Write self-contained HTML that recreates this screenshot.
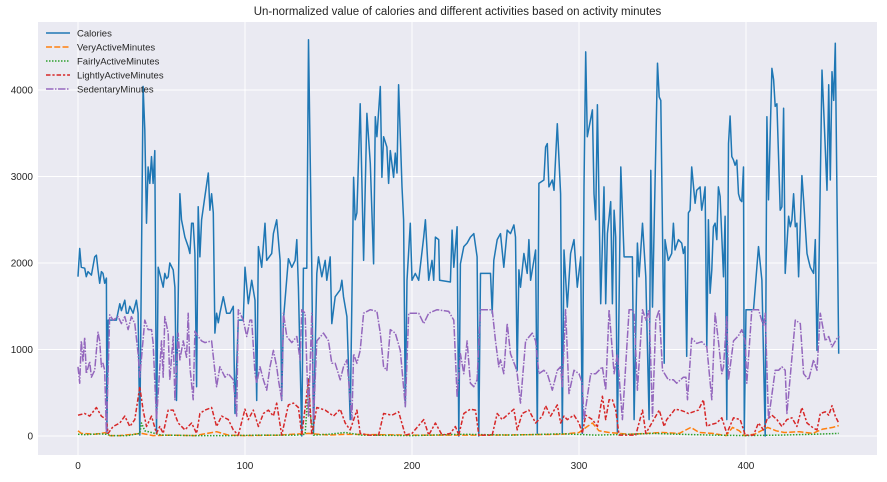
<!DOCTYPE html>
<html><head><meta charset="utf-8"><style>
html,body{margin:0;padding:0;background:#fff;}
svg{display:block;font-family:"Liberation Sans",sans-serif;}
</style></head><body>
<svg id="chart" width="887" height="482" viewBox="0 0 887 482"></svg>
<script>
const calX=[0,1,2,4,5,6,8,10,11,12,13,14,15,16,17,17.3,18,20,23,25,26,28,29,30,31,33,35,36,37,39,40,41,42,43,44,45,46,47,48,50,51,52,53,54,55,57,58,59,61,62,64,66,67,68,69,70,71,72,73,74,76,78,79,80,81,82,83,84,85,87,89,91,93,94,96,99,100,102,104,106,107,108,110,112,113,116,117,119,121,122,123,126,128,130,131,132,134,135,137,138,140,141,143,144,146,148,149,151,152,154,157,158,159,161,163,165,166,167,169,171,173,175,177,178,179,181,182,183,185,186,187,189,190,191,192,194,195,196,197,199,200,202,204,207,208,210,212,213,214,216,216.5,223,224,225,227,228,229,231,233,235,237,239,240,241,247,248,249,251,253,255,257,259,261,262,263,264,265,267,269,270,271,274,275,276,279,280,281,282,284,285,287,289,290,291,293,295,297,299,301,302,303,304,305,308,309,310,311,313,315,316,317,319,320,321,322,323,325,327,332,333,335,336,338,340,342,343,344,347,348,349,351,351.5,353.5,355.5,356.5,357.5,359.5,361.5,362.5,363.5,364.5,365.5,366.5,367.5,369.5,370.5,372.5,373.5,374.5,375.5,376.5,377.5,378.5,379.5,380.5,381.5,382.5,383.5,384.5,386.5,387.5,388.5,389.5,390.5,391.5,392.5,393.5,394.5,395.5,396.5,397.5,398.5,399,400,404.5,407.5,409.5,411.5,412.5,413.5,415.5,416.5,417.5,418.5,420.5,421.5,422.5,423.5,425.5,426.5,427.5,428.5,429.5,430.5,431.5,433.5,434.5,436.5,437.5,438.5,440.5,441.5,442.5,443.5,445.5,446.5,448.5,449.5,450.5,451.5,452.5,453.5,455.5];
const calories=[1842,2168,1950,1940,1842,1900,1860,2070,2090,1920,1765,1900,1880,1765,1825,30,1340,1340,1340,1530,1450,1570,1420,1420,1500,1420,1570,1420,10,4040,3540,2460,3110,2920,3230,2920,3300,30,1950,1800,1720,1880,1820,1840,2000,1920,1720,410,2800,2500,2300,2190,2110,2460,2460,2110,570,2650,2070,2500,2770,3040,2610,2800,2580,1190,1420,1310,1420,1610,1420,1420,1500,260,1340,1340,1950,1530,1800,1570,410,2190,1950,2460,2030,2110,2340,2500,2030,410,1340,2050,1950,2030,2270,1720,0,1940,1940,4580,1940,30,1880,2070,1840,2030,1800,2070,1300,1610,1690,1800,1610,1380,190,2990,2500,2580,3840,2030,3730,3150,1990,3690,3460,4040,2990,3460,3340,2920,3300,2990,3270,3040,4060,2880,2500,340,1800,2460,1800,1880,1800,2300,2500,1800,2030,1800,2300,2270,1800,1780,2380,1950,2420,0,1990,2190,2230,2300,2340,2070,0,1880,1880,1420,2030,2270,2340,1950,2380,2340,2440,2300,760,1920,1720,2110,1880,2270,1800,2150,30,2920,2960,3340,3380,2880,2960,2840,3610,2800,30,2150,1490,2110,2270,1720,2070,30,2880,4440,3460,3770,2800,2500,3830,1530,2880,1530,2340,2710,1530,2610,2300,30,3110,2070,2070,190,2230,1840,2460,1840,190,3070,1490,4310,3920,3880,840,2270,2030,2110,2460,2150,2270,2230,2110,2190,920,2580,2610,3110,2690,2840,2880,2610,2730,2880,1030,2500,1650,1920,2420,2460,2270,2880,2770,1840,2540,190,3380,3700,3230,3190,3130,3190,2800,2730,2710,3110,30,1460,1460,2190,1800,0,3690,2730,4250,4120,3810,3840,2610,2650,3790,1880,2540,2420,2500,2800,2420,2460,1840,3010,2730,2110,2030,1950,1880,2270,990,1690,4230,3770,2840,4060,2960,4210,3880,4540,950];
const vaX=[0,2,6,10,17,19,25,38,45,55,70,83,90,100,120,138,150,160,200,250,290,300,305,308,312,318,330,350,360,367,372,380,388,392,396,399,405,413,418,423,432,440,446,452,455.5];
const veryActive=[60,30,25,20,40,5,5,30,5,10,5,50,10,5,10,30,10,20,10,10,20,40,110,150,60,40,20,40,30,100,40,30,5,100,60,5,20,100,60,40,50,30,80,100,120];
const faX=[0,5,12,17,20,30,37,38,40,50,70,90,110,130,136,137,138,139,141,150,160,170,200,230,260,290,310,330,345,360,380,400,420,440,455.5];
const fairlyActive=[20,15,25,20,5,5,30,150,60,10,5,5,10,10,20,300,660,250,10,20,40,10,5,20,10,25,10,20,30,20,10,5,10,20,30];
const laX=[0,4,7,11,14,17,18,21,25,28,31,34,37,39,41,44,47,49,51,54,57,60,64,68,71,73,76,80,83,86,90,93,96,100,102,105,108,111,114,117,119,122,126,129,132,134,138,140,143,148,153,157,160,163,167,169,174,180,183,188,192,196,200,207,210,214,218,223,226,228,231,235,238,240,248,251,254,258,261,263,266,270,274,278,280,283,287,289,291,293,297,300,302,304,308,311,314,316,318,320,322,324,329,334,338,340,343,348,351,352.5,355.5,357.5,360.5,363.5,365.5,368.5,371.5,374.5,376.5,378.5,382.5,385.5,388.5,392.5,396.5,399.5,404.5,407.5,410.5,412.5,415.5,418.5,421.5,424.5,427.5,430.5,433.5,436.5,440.5,442.5,444.5,447.5,449.5,451.5,453.5,455.5];
const lightlyActive=[240,260,230,330,230,190,30,110,150,230,110,190,570,300,110,230,30,110,30,300,300,150,70,150,30,260,300,330,110,230,190,70,10,310,190,300,110,260,300,230,380,10,360,380,330,10,650,10,330,300,230,310,150,70,300,30,10,10,260,240,280,10,30,190,10,150,10,30,110,10,260,310,300,10,10,260,190,260,310,70,260,300,150,230,350,230,360,150,230,190,240,150,30,240,190,110,460,190,420,420,300,10,10,10,300,30,130,300,110,190,260,310,300,280,260,280,300,420,110,130,150,210,30,210,190,10,10,150,70,190,240,190,110,190,210,110,330,150,90,70,260,280,240,350,230,150];
const sedX=[0,1,2,3,4,5,7,8,10,12,13,14,15,16,17,19,21,24,26,28,30,32,34,36,37,40,42,44,45,47,50,51,52,54,55,57,58,60,61,63,65,66,67,69,70,72,74,76,80,83,85,88,90,93,95,96,99,101,103,104,106,107,109,111,113,115,117,119,120,122,123,125,128,131,133,134,136,138,140,141,143,147,150,152,154,157,159,161,164,165,167,169,171,175,179,181,183,185,187,190,193,196,198,201,204,207,210,215,222,225,227,229,231,233,235,237,239,241,246,248,250,252,253,255,257,259,262,263,265,268,272,274,276,279,281,284,287,289,290,292,294,297,300,302,303,307,310,314,316,318,321,323,326,330,332,333,335,338,340,342,344,346,348,350,353.5,356.5,358.5,362.5,364,365,367.5,370.5,373.5,375.5,376.5,379.5,381.5,383.5,385.5,386.5,388.5,389.5,392.5,395.5,397.5,399.5,400.5,403.5,407.5,410.5,411.5,413.5,417.5,419.5,421.5,423.5,424.5,429.5,432.5,434.5,437.5,440.5,442.5,444.5,447.5,449.5,451.5,454.5,456];
const sedentary=[800,610,1100,860,1140,720,860,680,760,1200,1100,800,840,760,30,1400,1340,1380,1300,1380,1230,1380,1300,950,680,1340,1230,1230,1080,190,1100,680,1380,1190,650,1150,420,1190,880,1100,910,1420,800,420,1210,1150,1100,1080,1100,570,800,680,720,650,230,1460,1340,1150,1340,1340,720,610,800,650,530,800,990,800,650,420,1420,1150,1080,1150,880,1460,1420,230,1420,190,1100,1190,1100,840,840,650,800,880,190,950,840,990,1420,1460,1440,1190,800,760,1230,1190,990,340,1420,1420,1420,1300,1420,1460,1440,1340,460,950,720,1100,610,570,650,1460,1460,1460,1100,800,880,720,1300,950,800,720,380,1100,1190,1100,720,760,720,530,760,800,570,1460,490,760,720,610,190,720,720,800,530,1460,720,950,190,1460,1460,1420,530,1460,1340,1460,230,1340,1460,760,650,650,610,680,680,420,1130,1070,1090,1050,1030,420,1420,1100,720,800,1380,650,1100,1160,1230,1100,610,1460,1460,1270,1420,190,760,760,800,760,260,1340,1300,720,650,880,760,1420,1100,1150,1030,1130,1150,570];
const xTicks=[0,100,200,300,400];
const yTicks=[0,1000,2000,3000,4000];

const svg=document.getElementById('chart');
const NS='http://www.w3.org/2000/svg';
const L=38,R=877,T=22,B=455;
const xs=v=>78+v*1.67;
const ys=v=>436-v*0.0865;
function mk(tag,attrs,parent){const e=document.createElementNS(NS,tag);for(const k in attrs)e.setAttribute(k,attrs[k]);(parent||svg).appendChild(e);return e;}

const title=mk('text',{x:(L+R)/2,y:15,'text-anchor':'middle','font-size':'11.5',fill:'#262626'});
title.textContent='Un-normalized value of calories and different activities based on activity minutes';



const bg=mk('rect',{x:L,y:T,width:R-L,height:B-T,fill:'#EAEAF2'});



xTicks.forEach(t=>{
  const g=mk('line',{x1:xs(t),x2:xs(t),y1:T,y2:B,stroke:'#fff','stroke-width':1});
  
  
  const lb=mk('text',{x:xs(t),y:B+14,'text-anchor':'middle','font-size':'10',fill:'#262626'});
  lb.textContent=t;
  
  
});
yTicks.forEach(t=>{
  const g=mk('line',{x1:L,x2:R,y1:ys(t),y2:ys(t),stroke:'#fff','stroke-width':1});
  
  
  const lb=mk('text',{x:L-5,y:ys(t)+3.5,'text-anchor':'end','font-size':'10',fill:'#262626'});
  lb.textContent=t;
  
  
});

const series=[
 {name:'Calories',xv:calX,yv:calories,color:'#1f77b4',dash:'none',id:'calories-line'},
 {name:'VeryActiveMinutes',xv:vaX,yv:veryActive,color:'#ff7f0e',dash:'6 2.25',id:'very-active-line'},
 {name:'FairlyActiveMinutes',xv:faX,yv:fairlyActive,color:'#2ca02c',dash:'1.5 1.5',id:'fairly-active-line'},
 {name:'LightlyActiveMinutes',xv:laX,yv:lightlyActive,color:'#d62728',dash:'4.5 1.9 2.25 1.9',id:'lightly-active-line'},
 {name:'SedentaryMinutes',xv:sedX,yv:sedentary,color:'#9467bd',dash:'7.5 1.5 1.5 1.5',id:'sedentary-line'}
];
series.forEach(s=>{
  const d=s.xv.map((x,i)=>(i?'L':'M')+xs(x).toFixed(1)+' '+ys(s.yv[i]).toFixed(1)).join('');
  const p=mk('path',{d:d,fill:'none',stroke:s.color,'stroke-width':1.5,'stroke-dasharray':s.dash,'stroke-linejoin':'round'});
  
  
});

const leg=mk('g',{});


series.forEach((s,i)=>{
  const y=33+i*14;
  const ln=mk('line',{x1:46,x2:70,y1:y,y2:y,stroke:s.color,'stroke-width':1.5,'stroke-dasharray':s.dash},leg);
  
  
  const tx=mk('text',{x:77,y:y+3.5,'font-size':'9.5',fill:'#262626'},leg);
  tx.textContent=s.name;
  
  
});
</script>
</body></html>
